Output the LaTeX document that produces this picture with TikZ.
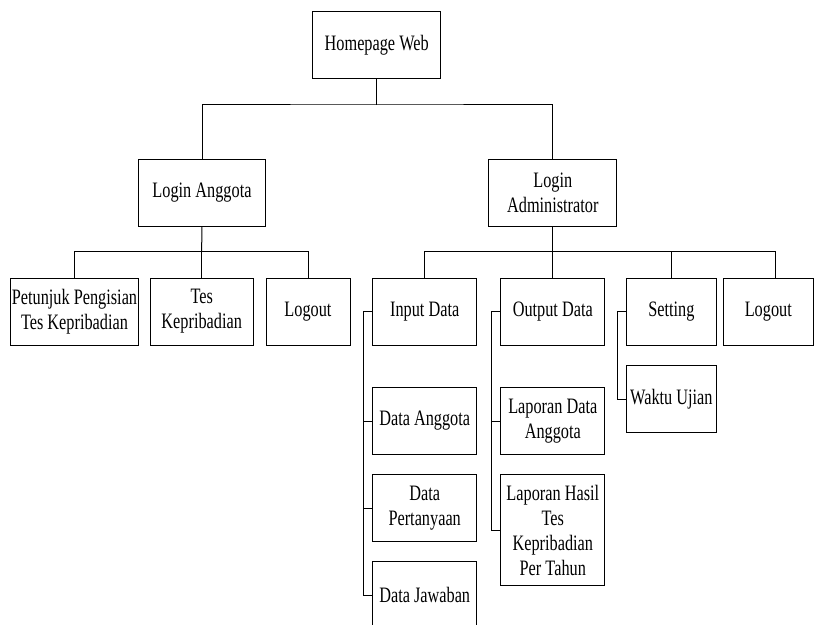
\documentclass[tikz,border=0pt]{standalone}
\usepackage{fontspec}
\setmainfont[FakeStretch=0.74]{Liberation Serif}
\usetikzlibrary{calc}

\begin{document}
\begin{tikzpicture}[x=1pt,y=-1pt,line cap=rect,line join=miter]

\tikzset{
  box/.style={draw,line width=1pt,minimum height=67pt,inner sep=1pt,
    align=center,font=\fontsize{22}{25}\selectfont},
  link/.style={line width=1pt}
}

\useasboundingbox (0,0) rectangle (814,624);

% level 0 and 1
\node[box,minimum width=128pt] (home) at (376.7,45) {Homepage Web};
\node[box,minimum width=127.4pt] (loginA) at (202,192.7) {Login Anggota};
\node[box,minimum width=127.7pt] (loginB) at (552.8,192.7) {Login\\Administrator};

% under Login Anggota
\node[box,minimum width=125pt] (petunjuk) at (74.5,311.5) {Petunjuk Pengisian\\Tes Kepribadian};
\node[box,minimum width=103pt] (tes) at (201.7,311.5) {Tes\\Kepribadian};
\node[box,minimum width=84pt] (logoutA) at (308,311.5) {Logout};

% under Login Administrator
\node[box,minimum width=104pt] (input) at (424.7,311.5) {Input Data};
\node[box,minimum width=104.3pt] (output) at (552.8,311.5) {Output Data};
\node[box,minimum width=89.3pt] (setting) at (671.4,311.5) {Setting};
\node[box,minimum width=90pt] (logoutB) at (768.3,311.5) {Logout};

% sub menus
\node[box,minimum width=104pt] (dAnggota) at (input |- 0,421) {Data Anggota};
\node[box,minimum width=104pt] (dTanya) at (input |- 0,508) {Data\\Pertanyaan};
\node[box,minimum width=104pt] (dJawab) at (input |- 0,595) {Data Jawaban};
\node[box,minimum width=104.3pt] (lapAnggota) at (output |- 0,421) {Laporan Data\\Anggota};
\node[box,minimum width=104.3pt,minimum height=111.4pt] (lapHasil) at (output |- 0,530) {Laporan Hasil\\Tes\\Kepribadian\\Per Tahun};
\node[box,minimum width=89.3pt] (waktu) at (setting |- 0,399.3) {Waktu Ujian};

% bus lines
\coordinate (bus0) at (376.7,104);
\coordinate (busA) at (201.7,251.7);
\coordinate (busB) at (552.8,251.7);

\draw[link] (home) -- (bus0);
\draw[link] (loginA.north) |- (bus0) -| (loginB.north);

\draw[link] (loginA) -- (busA);
\draw[link] (petunjuk.north) |- (busA) -| (logoutA.north);
\draw[link] (busA) -- (tes.north);

\draw[link] (loginB) -- (busB);
\draw[link] (input.north) |- (busB) -| ([xshift=7.4pt]logoutB.north);
\draw[link] (busB) -- (output.north);
\draw[link] (setting.north) -- (setting.north |- busB);

% side branches
\coordinate (inT) at ([xshift=-8.7pt]input.west);
\coordinate (outT) at ([xshift=-9pt]output.west);
\coordinate (setT) at ([xshift=-9pt]setting.west);

\draw[link] (input.west) -- (inT) |- (dJawab.west);
\draw[link] (inT |- dAnggota.west) -- (dAnggota.west);
\draw[link] (inT |- dTanya.west) -- (dTanya.west);

\draw[link] (output.west) -- (outT) |- (lapHasil.west);
\draw[link] (outT |- lapAnggota.west) -- (lapAnggota.west);

\draw[link] (setting.west) -- (setT) |- (waktu.west);
\end{tikzpicture}
\end{document}
